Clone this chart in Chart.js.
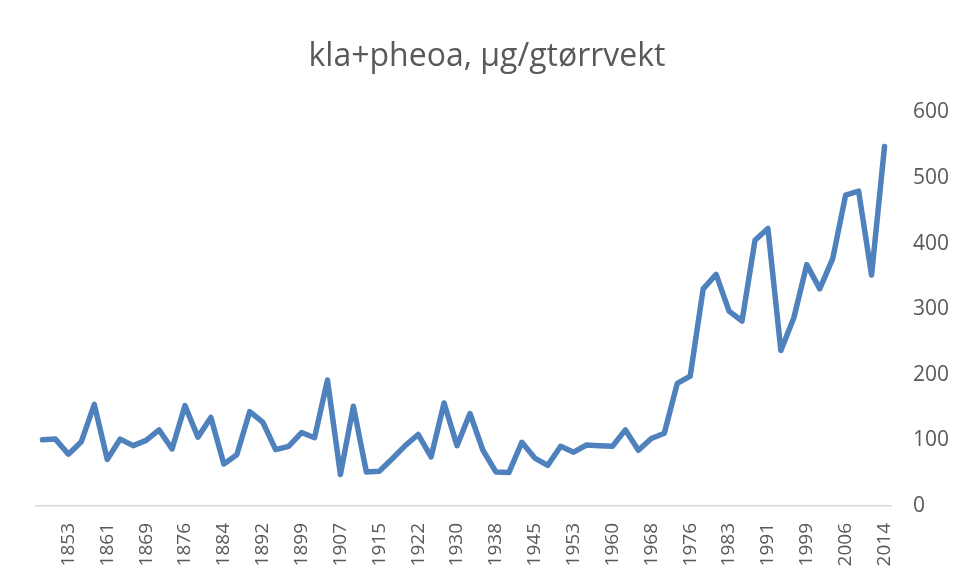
<!DOCTYPE html>
<html>
<head>
<meta charset="utf-8">
<script src="https://cdn.jsdelivr.net/npm/chart.js@4/dist/chart.umd.min.js"></script>
<style>
  html, body { margin: 0; padding: 0; background: #ffffff; }
  #wrap { width: 957px; height: 581px; position: relative; }
</style>
</head>
<body>
<div id="wrap"><canvas id="c"></canvas></div>
<script>
// Sample years (only every third one is printed on the axis, as in the source chart)
const years = [1848, 1850, 1853, 1856, 1858, 1861, 1864, 1866, 1869, 1871, 1874, 1876,
  1879, 1882, 1884, 1887, 1890, 1892, 1894, 1897, 1899, 1902, 1905, 1907,
  1910, 1913, 1915, 1917, 1920, 1922, 1925, 1928, 1930, 1933, 1936, 1938,
  1940, 1943, 1945, 1948, 1951, 1953, 1955, 1958, 1960, 1963, 1966, 1968,
  1971, 1974, 1976, 1978, 1981, 1983, 1986, 1989, 1991, 1994, 1997, 1999,
  2001, 2004, 2006, 2009, 2012, 2014];

// kla+pheoa, µg/g tørrvekt
const klaPheoa = [101, 102, 79, 98, 155, 71, 102, 92, 100, 116, 87, 153,
  105, 135, 64, 78, 144, 128, 86, 91, 112, 104, 192, 48,
  152, 52, 53, 72, 92, 109, 75, 157, 92, 141, 85, 52,
  51, 97, 73, 62, 91, 82, 93, 92, 91, 116, 85, 103,
  111, 187, 198, 331, 353, 297, 282, 405, 423, 237, 287, 368,
  331, 377, 474, 480, 352, 548];

const yTicks = [0, 100, 200, 300, 400, 500, 600];

const FONT = "'Open Sans', 'Liberation Sans', sans-serif";
const GREY = '#595959';

new Chart(document.getElementById('c'), {
  type: 'line',
  data: {
    labels: years.map(String),
    datasets: [{
      label: 'kla+pheoa, µg/gtørrvekt',
      data: klaPheoa,
      yAxisID: 'y',
      borderColor: '#4F81BD',
      backgroundColor: '#4F81BD',
      borderWidth: 5.5,
      pointRadius: 0,
      pointHoverRadius: 4,
      tension: 0,
      borderJoinStyle: 'round',
      borderCapStyle: 'round',
      fill: false
    }]
  },
  options: {
    responsive: true,
    maintainAspectRatio: false,
    animation: false,
    layout: { padding: { left: 17, right: 0, top: 0, bottom: 0 } },
    plugins: {
      legend: { display: false },
      title: {
        display: true,
        text: 'kla+pheoa, µg/gtørrvekt',
        color: GREY,
        font: { family: FONT, size: 32, weight: 'normal' },
        padding: { top: 38, bottom: 36 }
      },
      tooltip: { enabled: true }
    },
    scales: {
      x: {
        type: 'category',
        offset: true,
        grid: { display: false, drawTicks: false },
        border: { display: true, color: '#D9D9D9', width: 1.5 },
        afterFit: (axis) => { axis.height = 75; },
        ticks: {
          autoSkip: false,
          minRotation: 90,
          maxRotation: 90,
          padding: 17,
          color: GREY,
          font: { family: FONT, size: 19 },
          callback: function (val, index) {
            return (index % 3 === 2) ? this.getLabelForValue(val) : '';
          }
        }
      },
      y: {
        position: 'right',
        min: 0,
        max: 600,
        afterBuildTicks: (axis) => { axis.ticks = yTicks.map(v => ({ value: v })); },
        afterFit: (axis) => { axis.width = 66; },
        grid: { display: false, drawTicks: false },
        border: { display: false },
        ticks: {
          padding: 22,
          color: GREY,
          font: { family: FONT, size: 21 }
        }
      },
      spacer: {
        type: 'linear',
        position: 'left',
        display: true,
        grid: { display: false, drawTicks: false },
        border: { display: false },
        ticks: { display: false },
        afterFit: (axis) => { axis.width = 19; }
      }
    }
  }
});
</script>
</body>
</html>
